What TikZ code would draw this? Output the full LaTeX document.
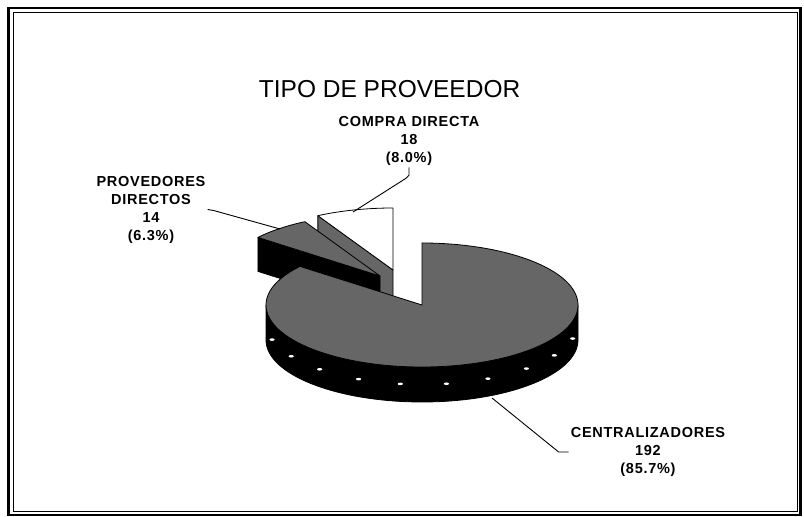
\documentclass[tikz,border=0pt]{standalone}
\usepackage{fontspec}
\setmainfont{Liberation Sans}
\newfontfamily\etiquetafont[LetterSpace = 5]{Liberation Sans}

\begin{document}
\begin{tikzpicture}[x = 1pt, y = 1pt,
    every node/.style = { align = center, inner sep = 2pt },
    etiqueta/.style = { font = \etiquetafont\bfseries\fontsize{14.5}{18}\selectfont },
    borde/.style = { draw = black, line width = .8pt, line join = round },
    guia/.style = { draw = black, line width = .9pt },
    radios/.style = { x radius = 156pt, y radius = 62pt }]
  \useasboundingbox (0,0) rectangle (804,517);
  \draw [line width = 2.4pt] (8.5,509) rectangle (800.5,2);
  \draw [line width = .8pt] (13,504.5) rectangle (797,6);

  \node (titulo) at (393,428) { \fontsize{24.5}{29}\selectfont TIPO DE PROVEEDOR };

  \path [fill = black!60, borde] (393,247) -- ++(118.8:156pt and 62pt) -- ++(0,-34) -- (393,213) -- cycle;
  \path [fill = white, borde] (393,247) -- ++(90:156pt and 62pt)
    arc [start angle = 90, end angle = 118.8, radios] -- cycle;

  \path [fill = black, borde] (380,241) -- ++(141.5:156pt and 62pt) -- ++(0,-34) -- (380,207) -- cycle;
  \path [fill = black!60, borde] (380,241) -- ++(118.8:156pt and 62pt)
    arc [start angle = 118.8, end angle = 141.5, radios] -- cycle;

  \path [fill = black, borde] (422,212) ++(180:156pt and 62pt)
    arc [start angle = 180, end angle = 360, radios] -- ++(0,-35)
    arc [start angle = 360, end angle = 180, radios] -- cycle;
  \foreach \a in {196,213,229,246,262,279,295,312,328,345}
    \fill [white] (422,194.5) ++(\a:156pt and 62pt) ellipse [x radius = 2.6pt, y radius = 1.3pt];
  \path [fill = black!60, borde] (422,212) -- ++(141.5:156pt and 62pt)
    arc [start angle = 141.5, end angle = 450, radios] -- cycle;

  \coordinate (cd) at (353,305);
  \coordinate (pd) at (280,288);
  \coordinate (ce) at (492,119);

  \node [etiqueta] (compra) at (409,376.5) { COMPRA DIRECTA \\ 18 \\ (8.0\%) };
  \node [etiqueta] (provedores) at (151,307.5) { PROVEDORES \\ DIRECTOS \\ 14 \\ (6.3\%) };
  \node [etiqueta] (central) at (648,65) { CENTRALIZADORES \\ 192 \\ (85.7\%) };

  \draw [guia] (compra.south) -- ++(0,-8) -- ++(-3,-3) -- (cd);
  \draw [guia] (provedores.east) -- ++(6,-1) -- (pd);
  \draw [guia] (ce) -- ([xshift = -10pt]central.west) -- (central.west);
\end{tikzpicture}
\end{document}
